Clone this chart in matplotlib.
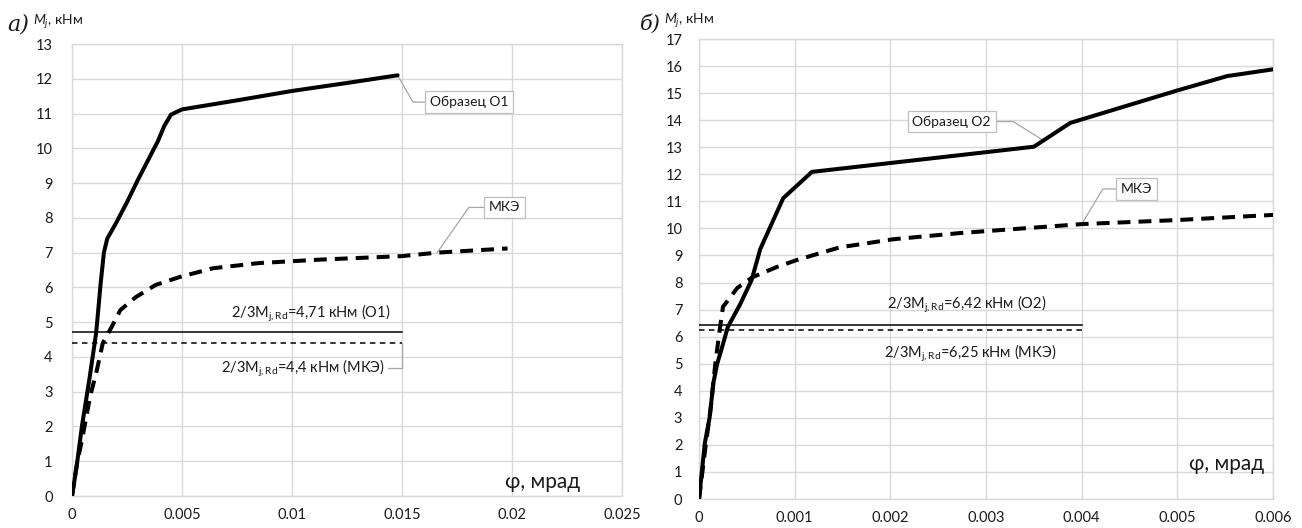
import matplotlib
matplotlib.use('Agg')
import matplotlib.pyplot as plt

FONT = 'Lato'
plt.rcParams['font.family'] = [FONT, 'DejaVu Sans']
plt.rcParams['mathtext.fontset'] = 'custom'
plt.rcParams['mathtext.rm'] = FONT
plt.rcParams['mathtext.it'] = FONT + ':italic'

# ---------------- data: panel а ----------------
phi_o1 = [0, 0.0002, 0.00045, 0.0008, 0.0011, 0.0013, 0.00145, 0.0016, 0.002, 0.0025,
          0.003, 0.0039, 0.0042, 0.0045, 0.005, 0.0075, 0.01, 0.0125, 0.0148]
m_o1 = [0, 0.8, 2.0, 3.4, 4.7, 6.1, 7.0, 7.4, 7.85, 8.45,
        9.1, 10.2, 10.65, 10.97, 11.12, 11.38, 11.65, 11.88, 12.1]

phi_mke1 = [0, 0.00023, 0.00045, 0.00082, 0.00113, 0.0014, 0.0018, 0.0022, 0.0029,
            0.0038, 0.0049, 0.0064, 0.0085, 0.0113, 0.015, 0.0166, 0.0198]
m_mke1 = [0, 0.95, 1.6, 2.85, 3.62, 4.4, 4.86, 5.35, 5.72,
          6.07, 6.3, 6.55, 6.7, 6.8, 6.9, 7.0, 7.12]

mrd_o1 = 4.71
mrd_mke1 = 4.4
phi_lim1 = 0.015

xticks1 = [0, 0.005, 0.01, 0.015, 0.02, 0.025]
xlabels1 = ['0', '0.005', '0.01', '0.015', '0.02', '0.025']
yticks1 = list(range(0, 14))

# ---------------- data: panel б ----------------
phi_o2 = [0, 0.00006, 0.00011, 0.00015, 0.00019, 0.00024, 0.0003, 0.00043, 0.00055,
          0.00064, 0.00088, 0.00118, 0.00273, 0.0035, 0.00388, 0.005, 0.00552, 0.006]
m_o2 = [0, 2.06, 3.0, 4.3, 5.0, 5.6, 6.35, 7.2, 8.1,
        9.24, 11.12, 12.09, 12.71, 13.02, 13.9, 15.1, 15.63, 15.88]

phi_mke2 = [0, 0.00007, 0.00012, 0.00017, 0.00021, 0.00025, 0.0004, 0.00056, 0.00081,
            0.00102, 0.00147, 0.00203, 0.00273, 0.004, 0.005, 0.006]
m_mke2 = [0, 2.0, 3.3, 5.0, 6.1, 7.1, 7.8, 8.2, 8.57,
          8.83, 9.3, 9.6, 9.83, 10.16, 10.31, 10.5]

mrd_o2 = 6.42
mrd_mke2 = 6.25
phi_lim2 = 0.004

xticks2 = [0, 0.001, 0.002, 0.003, 0.004, 0.005, 0.006]
xlabels2 = ['0', '0.001', '0.002', '0.003', '0.004', '0.005', '0.006']
yticks2 = list(range(0, 18))

# ---------------- styling ----------------
GRID = '#d9d9d9'
TXT = '#1a1a1a'
LEAD = '#a6a6a6'
THICK = 2.9
THIN = 1.1

fig = plt.figure(figsize=(13.02, 5.28), dpi=100)
ax1 = fig.add_axes([0.0553, 0.0606, 0.4224, 0.856])
ax2 = fig.add_axes([0.5369, 0.0549, 0.4409, 0.8712])


def style(ax, xticks, xlabels, yticks, xmax, ymax, ypad):
    ax.set_xlim(0, xmax)
    ax.set_ylim(0, ymax)
    ax.set_xticks(xticks)
    ax.set_xticklabels(xlabels)
    ax.set_yticks(yticks)
    ax.grid(True, color=GRID, lw=1.0)
    ax.set_axisbelow(True)
    for s in ax.spines.values():
        s.set_color(GRID)
        s.set_linewidth(1.0)
    ax.tick_params(axis='both', length=0, labelsize=10.5, colors=TXT)
    ax.tick_params(axis='x', pad=8.5)
    ax.tick_params(axis='y', pad=ypad)


style(ax1, xticks1, xlabels1, yticks1, 0.025, 13, 14)
style(ax2, xticks2, xlabels2, yticks2, 0.006, 17, 12)

box = dict(boxstyle='square,pad=0.35', fc='white', ec='#bfbfbf', lw=0.9)
lead = dict(arrowstyle='-', color=LEAD, lw=0.9, shrinkA=0, shrinkB=0)

# panel а
ax1.plot(phi_o1, m_o1, color='black', lw=THICK, solid_capstyle='round', solid_joinstyle='round', zorder=4)
ax1.plot(phi_mke1, m_mke1, color='black', lw=THICK, dashes=(3.2, 2.0), zorder=4)
ax1.plot([0, phi_lim1], [mrd_o1, mrd_o1], color='black', lw=THIN, zorder=3)
ax1.plot([0, phi_lim1], [mrd_mke1, mrd_mke1], color='black', lw=THIN, dashes=(3.6, 2.9), zorder=3)

ax1.text(0.01084, 5.26, r'2/3M$_{\mathrm{j,Rd}}$=4,71 кНм (О1)', ha='center', va='center', fontsize=10.5, color=TXT)
ax1.annotate(r'2/3M$_{\mathrm{j,Rd}}$=4,4 кНм (МКЭ)', xy=(phi_lim1, mrd_mke1), xytext=(0.01052, 3.68),
             ha='center', va='center', fontsize=10.5, color=TXT,
             arrowprops=dict(lead, connectionstyle='angle,angleA=0,angleB=90,rad=0'))
ax1.annotate('Образец О1', xy=(phi_o1[-1], m_o1[-1]), xytext=(0.01805, 11.33),
             ha='center', va='center', fontsize=10, color=TXT, bbox=box,
             arrowprops=dict(lead, connectionstyle='angle,angleA=0,angleB=-60,rad=0'))
ax1.annotate('МКЭ', xy=(0.0166, 7.0), xytext=(0.01966, 8.3),
             ha='center', va='center', fontsize=10, color=TXT, bbox=box,
             arrowprops=dict(lead, connectionstyle='angle,angleA=0,angleB=55,rad=0'))
ax1.text(0.02139, 0.23, 'φ, мрад', ha='center', va='baseline', fontsize=15, color=TXT)

# panel б
ax2.plot(phi_o2, m_o2, color='black', lw=THICK, solid_capstyle='round', solid_joinstyle='round', zorder=4)
ax2.plot(phi_mke2, m_mke2, color='black', lw=THICK, dashes=(3.2, 2.0), zorder=4)
ax2.plot([0, phi_lim2], [mrd_o2, mrd_o2], color='black', lw=THIN, zorder=3)
ax2.plot([0, phi_lim2], [mrd_mke2, mrd_mke2], color='black', lw=THIN, dashes=(3.6, 2.9), zorder=3)

ax2.text(0.002796, 7.21, r'2/3M$_{\mathrm{j,Rd}}$=6,42 кНм (О2)', ha='center', va='center', fontsize=10.5, color=TXT)
ax2.text(0.002838, 5.40, r'2/3M$_{\mathrm{j,Rd}}$=6,25 кНм (МКЭ)', ha='center', va='center', fontsize=10.5, color=TXT)
ax2.annotate('Образец О2', xy=(0.0036, 13.25), xytext=(0.00264, 13.95),
             ha='center', va='center', fontsize=10, color=TXT, bbox=box,
             arrowprops=dict(lead, connectionstyle='angle,angleA=0,angleB=148,rad=0'))
ax2.annotate('МКЭ', xy=(0.004, 10.16), xytext=(0.004573, 11.46),
             ha='center', va='center', fontsize=10, color=TXT, bbox=box,
             arrowprops=dict(lead, connectionstyle='angle,angleA=0,angleB=59,rad=0'))
ax2.text(0.00551, 1.07, 'φ, мрад', ha='center', va='baseline', fontsize=15, color=TXT)

# panel letters and axis titles
SERIF = ['DejaVu Serif']
fig.text(0.0054, 0.943, 'а)', fontsize=16, style='italic', family=SERIF, color=TXT)
fig.text(0.0253, 0.9527, r'$\mathit{M_j}$, кНм', fontsize=10, color=TXT)
fig.text(0.4915, 0.943, 'б)', fontsize=15, style='italic', family=SERIF, color=TXT)
fig.text(0.5100, 0.9545, r'$\mathit{M_j}$, кНм', fontsize=10, color=TXT)

fig.savefig('out.png', dpi=100)
